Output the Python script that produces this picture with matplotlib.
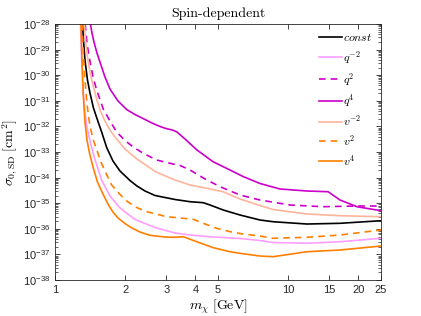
import numpy as np
import matplotlib
matplotlib.use("Agg")
import matplotlib.pyplot as plt
from matplotlib.ticker import FixedLocator, LogLocator, NullFormatter, FuncFormatter

plt.rcParams['mathtext.fontset'] = 'cm'
plt.rcParams['font.family'] = ['Liberation Sans', 'DejaVu Sans']

# ---- data (x in GeV, y as log10 of cross-section in cm^2) ----
const_x = [1.3119, 1.3249, 1.3446, 1.3783, 1.4127, 1.4623, 1.5212, 1.5855, 1.6658, 1.7727, 1.9002, 2.0967, 2.2468,
           2.4321, 2.6844, 3.2703, 3.7930, 4.3251, 4.6209, 5.2688, 6.2138, 7.5686, 8.6085, 12.039, 16.677, 25.0]
const_y = [-28.0, -28.625, -29.406, -30.188, -30.695, -31.281, -31.75, -32.219, -32.824, -33.352, -33.742, -34.113, -34.328,
           -34.523, -34.699, -34.855, -34.941, -34.980, -35.070, -35.266, -35.461, -35.656, -35.723, -35.813, -35.785, -35.684]

qm2_x = [1.2860, 1.2990, 1.3183, 1.3446, 1.3715, 1.4127, 1.4841, 1.5855, 1.7209, 1.9002, 2.2028, 2.6844, 3.2703,
         3.7930, 4.6209, 6.2138, 7.5686, 8.6085, 12.039, 16.677, 25.0]
qm2_y = [-28.0, -29.211, -30.578, -31.438, -32.023, -32.570, -33.293, -34.094, -34.719, -35.188, -35.637, -35.949, -36.164,
         -36.242, -36.309, -36.379, -36.457, -36.535, -36.566, -36.504, -36.371]

q2_x = [1.3473, 1.3674, 1.3919, 1.4197, 1.4594, 1.5137, 1.6108, 1.7209, 1.8393, 1.9958, 2.1661, 2.3917, 2.7299,
        3.1128, 3.4359, 3.7930, 4.3251, 5.1000, 6.2138, 7.5686, 10.179, 14.104, 19.726, 25.0]
q2_y = [-28.0, -28.625, -29.133, -29.563, -30.109, -30.617, -31.320, -31.789, -32.219, -32.551, -32.805, -33.051, -33.313,
        -33.441, -33.527, -33.703, -34.016, -34.355, -34.680, -34.875, -35.070, -35.137, -35.109, -35.109]

q4_x = [1.4197, 1.4408, 1.4695, 1.5137, 1.5746, 1.6380, 1.7209, 1.8630, 2.0296, 2.2028, 2.3846, 2.6052, 2.8203, 2.9923,
        3.2063, 3.3356, 3.6098, 4.0643, 4.7597, 5.6291, 6.4007, 7.5686, 9.2224, 12.039, 14.818, 16.677, 19.726, 25.0]
q4_y = [-28.0, -28.352, -28.703, -29.133, -29.602, -30.070, -30.539, -31.008, -31.340, -31.535, -31.691, -31.867, -32.004, -32.082,
        -32.148, -32.219, -32.492, -32.922, -33.379, -33.703, -33.957, -34.230, -34.445, -34.523, -34.551, -34.875, -35.137, -35.293]

vm2_x = [1.3380, 1.3513, 1.3783, 1.4127, 1.4551, 1.5092, 1.5668, 1.6380, 1.7209, 1.8081, 1.9958, 2.2468, 2.7110,
         3.2703, 3.7930, 4.4858, 5.2531, 6.2138, 7.5686, 8.6085, 12.039, 16.677, 25.0]
vm2_y = [-28.0, -28.625, -29.289, -29.875, -30.383, -30.930, -31.398, -31.789, -32.141, -32.414, -32.883, -33.273, -33.781,
         -34.094, -34.289, -34.418, -34.551, -34.836, -35.090, -35.246, -35.422, -35.488, -35.527]

v2_x = [1.3054, 1.3183, 1.3354, 1.3553, 1.3783, 1.4127, 1.4551, 1.5092, 1.5668, 1.6380, 1.7500, 1.9002, 2.0558, 2.2401,
        2.4563, 2.7110, 3.0131, 3.5497, 3.9186, 4.3251, 4.9363, 5.6291, 6.4007, 7.5686, 8.6085, 12.039, 16.677, 25.0]
v2_y = [-28.0, -28.820, -29.797, -30.578, -31.281, -31.984, -32.492, -32.902, -33.352, -33.742, -34.289, -34.660, -34.953, -35.168,
        -35.324, -35.422, -35.527, -35.590, -35.629, -35.785, -35.980, -36.113, -36.203, -36.281, -36.371, -36.332, -36.242, -36.047]

v4_x = [1.2926, 1.3054, 1.3223, 1.3446, 1.3715, 1.4057, 1.4594, 1.5212, 1.6060, 1.6923, 1.7727, 1.8630, 1.9958, 2.1385,
        2.3143, 2.5542, 2.9629, 3.2160, 3.5497, 4.0522, 4.7739, 5.6291, 6.2138, 7.5686, 8.6085, 12.039, 16.677, 25.0]
v4_y = [-28.0, -29.406, -30.773, -31.828, -32.531, -33.039, -33.625, -34.172, -34.641, -35.051, -35.344, -35.578, -35.793, -35.969,
        -36.125, -36.254, -36.320, -36.332, -36.309, -36.504, -36.738, -36.895, -36.957, -37.063, -37.090, -36.895, -36.828, -36.672]

labels = [r'$const$', r'$q^{-2}$', r'$q^{2}$', r'$q^{4}$', r'$v^{-2}$', r'$v^{2}$', r'$v^{4}$']
x_ticks = [1, 2, 3, 4, 5, 10, 15, 20, 25]
y_exps = list(range(-38, -27))

series = [(const_x, const_y), (qm2_x, qm2_y), (q2_x, q2_y), (q4_x, q4_y),
          (vm2_x, vm2_y), (v2_x, v2_y), (v4_x, v4_y)]
colors = ['black', '#ff9eff', '#cc00cc', '#cc00cc', '#ffb49c', '#ff8000', '#ff8000']
styles = ['-', '-', '--', '-', '-', '--', '-']

fig = plt.figure(figsize=(4.21, 3.16), dpi=100)
ax = fig.add_axes([0.1306, 0.1139, 0.7744, 0.8101])

for (xs, ys), lab, c, ls in zip(series, labels, colors, styles):
    line, = ax.plot(xs, 10.0 ** np.array(ys), color=c, lw=1.2, ls=ls, label=lab)
    if ls == '--':
        line.set_dashes((4, 3))

ax.set_xscale('log')
ax.set_yscale('log')
ax.set_xlim(1, 25)
ax.set_ylim(1e-38, 1e-28)

ax.xaxis.set_major_locator(FixedLocator(x_ticks))
ax.xaxis.set_minor_locator(FixedLocator([]))
ax.xaxis.set_major_formatter(FuncFormatter(lambda v, p: f'{v:g}'))
ax.xaxis.set_minor_formatter(NullFormatter())
ax.yaxis.set_major_locator(FixedLocator([10.0 ** e for e in y_exps]))
ax.yaxis.set_minor_locator(LogLocator(base=10, subs=np.arange(2, 10), numticks=100))
ax.yaxis.set_major_formatter(FuncFormatter(lambda v, p: r'$\mathregular{10^{%d}}$' % round(np.log10(v))))
ax.yaxis.set_minor_formatter(NullFormatter())

ax.tick_params(which='both', direction='in', top=True, right=True, labelsize=8, colors='#262626')
ax.tick_params(which='major', length=3.5, width=0.6)
ax.tick_params(which='minor', length=2, width=0.5)
for s in ax.spines.values():
    s.set_color('#262626')
    s.set_linewidth(0.6)

ax.set_title('Spin-dependent', family='cmr10', fontsize=10, pad=5)
ax.set_xlabel(r'$m_\chi\ [\mathrm{GeV}]$', fontsize=10, labelpad=2)
ax.set_ylabel(r'$\sigma_{0,\mathrm{SD}}\ [\mathrm{cm}^2]$', fontsize=10, labelpad=2)

leg = ax.legend(loc='upper right', frameon=False, fontsize=8.5, handlelength=2.0,
                handletextpad=0.1, labelspacing=0.4, borderaxespad=0.3)

fig.savefig('out.png', dpi=100)
